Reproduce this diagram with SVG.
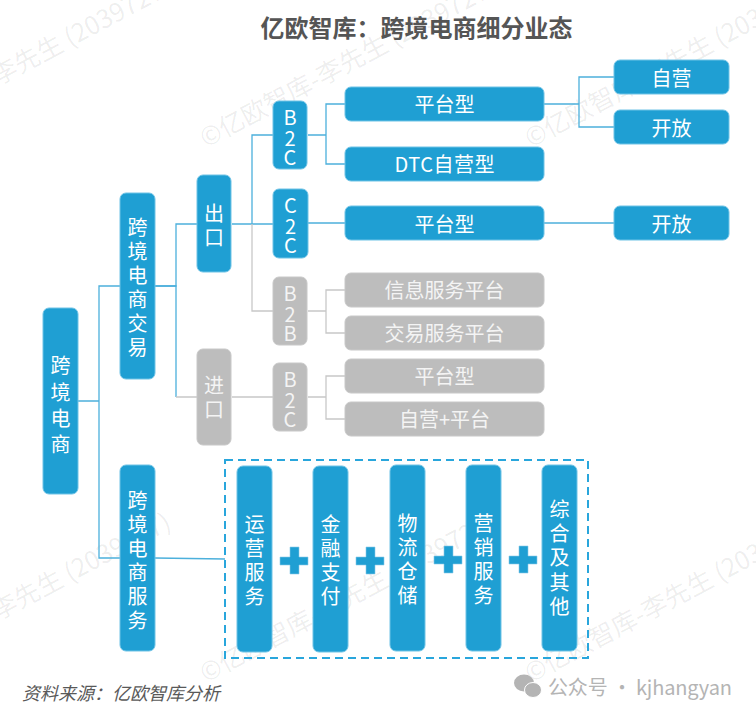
<svg xmlns="http://www.w3.org/2000/svg" width="756" height="717" viewBox="0 0 756 717">
<style>
text{font-family:"Noto Sans CJK SC","Noto Sans",sans-serif}
.n{fill:#1f9fd3;stroke:#6fc3e6;stroke-width:1}
.g{fill:#bdbdbd;stroke:#c8c8c8;stroke-width:1}
.t{fill:#fff;font-size:20px;text-anchor:middle}
.gt{fill:#f4f4f4;font-size:20px;text-anchor:middle}
.c{fill:none;stroke:#4cb0dc;stroke-width:1.3}
.cg{fill:none;stroke:#c8c8c8;stroke-width:1.3}
.w{fill:#000;fill-opacity:.075;font-size:25.500px}
.p{fill:#1f9fd3;stroke:#8ccbe8;stroke-width:.6}
</style>
<rect width="756" height="717" fill="#fff"/>
<g id="watermark">
<text class="w" transform="translate(-119 148) rotate(-28)">©亿欧智库-李先生 (2039727)</text>
<text class="w" transform="translate(206 148) rotate(-28)">©亿欧智库-李先生 (2039727)</text>
<text class="w" transform="translate(531 148) rotate(-28)">©亿欧智库-李先生 (2039727)</text>
<text class="w" transform="translate(-119 683) rotate(-28)">©亿欧智库-李先生 (2039727)</text>
<text class="w" transform="translate(206 683) rotate(-28)">©亿欧智库-李先生 (2039727)</text>
<text class="w" transform="translate(531 683) rotate(-28)">©亿欧智库-李先生 (2039727)</text>
</g>
<text id="title" x="416.500" y="37" text-anchor="middle" font-size="24" font-weight="700" fill="#555">亿欧智库：跨境电商细分业态</text>
<g id="connectors">
<path class="c" d="M78 401H99V286H120M99 401V558H120"/>
<path class="c" d="M155 286H176V224H197"/>
<path class="c" d="M232 224H273M252 224V135H273"/>
<path class="c" d="M155 286H176V397"/>
<path class="cg" d="M252 224V311H273"/>
<path class="c" d="M308 135H326V104H345M326 135V164H345"/>
<path class="c" d="M308 223H345M544 223H615"/>
<path class="c" d="M544 104H579V77H615M579 104V127H615"/>
<path class="cg" d="M176 397H197M232 397H273"/>
<path class="cg" d="M308 311H326V290H345M326 311V333H345"/>
<path class="cg" d="M308 397H326V376H345M326 397V419H345"/>
<path class="c" d="M155 558L225 559"/>
</g>
<g id="n-root"><rect class="n" x="43" y="308" width="35" height="186" rx="6"/><text class="t" x="60.500" y="373">跨</text><text class="t" x="60.500" y="400">境</text><text class="t" x="60.500" y="426">电</text><text class="t" x="60.500" y="452">商</text></g>
<g id="n-trade"><rect class="n" x="120" y="193" width="35" height="186" rx="6"/><text class="t" x="137.500" y="235">跨</text><text class="t" x="137.500" y="259">境</text><text class="t" x="137.500" y="283">电</text><text class="t" x="137.500" y="307">商</text><text class="t" x="137.500" y="331">交</text><text class="t" x="137.500" y="355">易</text></g>
<g id="n-service"><rect class="n" x="120" y="465" width="35" height="186" rx="6"/><text class="t" x="137.500" y="508">跨</text><text class="t" x="137.500" y="532">境</text><text class="t" x="137.500" y="556">电</text><text class="t" x="137.500" y="580">商</text><text class="t" x="137.500" y="604">服</text><text class="t" x="137.500" y="628">务</text></g>
<g id="n-export"><rect class="n" x="197" y="175" width="34" height="97" rx="6"/><text class="t" x="214" y="221">出</text><text class="t" x="214" y="245">口</text></g>
<g id="n-import"><rect class="g" x="197" y="349" width="34" height="96" rx="6"/><text class="gt" x="214" y="393">进</text><text class="gt" x="214" y="417">口</text></g>
<g id="n-b2c1"><rect class="n" x="273" y="101" width="34" height="68" rx="6"/><text class="t" x="290" y="125">B</text><text class="t" x="290" y="145.500">2</text><text class="t" x="290" y="165">C</text></g>
<g id="n-c2c"><rect class="n" x="273" y="189" width="35" height="69" rx="6"/><text class="t" x="290.500" y="213">C</text><text class="t" x="290.500" y="233.500">2</text><text class="t" x="290.500" y="253">C</text></g>
<g id="n-b2b"><rect class="g" x="273" y="277" width="34" height="68" rx="6"/><text class="gt" x="290" y="301">B</text><text class="gt" x="290" y="321.500">2</text><text class="gt" x="290" y="341">B</text></g>
<g id="n-b2c2"><rect class="g" x="273" y="363" width="34" height="68" rx="6"/><text class="gt" x="290" y="387">B</text><text class="gt" x="290" y="407.500">2</text><text class="gt" x="290" y="427">C</text></g>
<g id="n-p1"><rect class="n" x="345" y="87" width="199" height="34" rx="6"/><text class="t" x="444.500" y="112">平台型</text></g>
<g id="n-dtc"><rect class="n" x="345" y="147" width="199" height="34" rx="6"/><text class="t" x="444.500" y="172" textLength="100">DTC自营型</text></g>
<g id="n-p2"><rect class="n" x="345" y="206" width="199" height="34" rx="6"/><text class="t" x="444.500" y="232">平台型</text></g>
<g id="n-info"><rect class="g" x="345" y="273" width="199" height="34" rx="6"/><text class="gt" x="444.500" y="298">信息服务平台</text></g>
<g id="n-deal"><rect class="g" x="345" y="316" width="199" height="34" rx="6"/><text class="gt" x="444.500" y="341">交易服务平台</text></g>
<g id="n-p3"><rect class="g" x="345" y="359" width="199" height="34" rx="6"/><text class="gt" x="444.500" y="384">平台型</text></g>
<g id="n-mix"><rect class="g" x="345" y="402" width="199" height="34" rx="6"/><text class="gt" x="444.500" y="427">自营+平台</text></g>
<g id="n-self"><rect class="n" x="614" y="60" width="115" height="34" rx="6"/><text class="t" x="671.500" y="86">自营</text></g>
<g id="n-open1"><rect class="n" x="614" y="110" width="115" height="34" rx="6"/><text class="t" x="671.500" y="136">开放</text></g>
<g id="n-open2"><rect class="n" x="614" y="206" width="115" height="34" rx="6"/><text class="t" x="671.500" y="232">开放</text></g>
<rect id="dashed-frame" x="225" y="460" width="363" height="198" fill="none" stroke="#29a6dc" stroke-width="2" stroke-dasharray="8 5"/>
<g id="n-ops"><rect class="n" x="237" y="466" width="35" height="186" rx="6"/><text class="t" x="254.500" y="532">运</text><text class="t" x="254.500" y="556">营</text><text class="t" x="254.500" y="580">服</text><text class="t" x="254.500" y="604">务</text></g>
<g id="n-fin"><rect class="n" x="313" y="466" width="35" height="186" rx="6"/><text class="t" x="330.500" y="532">金</text><text class="t" x="330.500" y="556">融</text><text class="t" x="330.500" y="580">支</text><text class="t" x="330.500" y="604">付</text></g>
<g id="n-log"><rect class="n" x="390" y="465" width="35" height="186" rx="6"/><text class="t" x="407.500" y="531">物</text><text class="t" x="407.500" y="555">流</text><text class="t" x="407.500" y="579">仓</text><text class="t" x="407.500" y="603">储</text></g>
<g id="n-mkt"><rect class="n" x="466" y="465" width="35" height="186" rx="6"/><text class="t" x="483.500" y="531">营</text><text class="t" x="483.500" y="555">销</text><text class="t" x="483.500" y="579">服</text><text class="t" x="483.500" y="603">务</text></g>
<g id="n-other"><rect class="n" x="542" y="465" width="35" height="186" rx="6"/><text class="t" x="559.500" y="517">综</text><text class="t" x="559.500" y="541">合</text><text class="t" x="559.500" y="565">及</text><text class="t" x="559.500" y="590">其</text><text class="t" x="559.500" y="614">他</text></g>
<g id="plus">
<path class="p" d="M290 547h9v10h9v8h-9v9h-9v-9h-10v-8h10z"/>
<path class="p" d="M366 547h9v10h9v8h-9v9h-9v-9h-10v-8h10z"/>
<path class="p" d="M444 546h9v10h9v8h-9v9h-9v-9h-10v-8h10z"/>
<path class="p" d="M519 546h9v10h9v8h-9v9h-9v-9h-10v-8h10z"/>
</g>
<text id="source" x="22" y="700" font-size="18" font-style="italic" fill="#595959">资料来源：亿欧智库分析</text>
<g id="wechat-mark">
<ellipse cx="524" cy="683" rx="10" ry="8.500" fill="#b4b4b4"/>
<ellipse cx="533" cy="690" rx="8.500" ry="7.500" fill="#b4b4b4" stroke="#fff" stroke-width="1"/>
<text x="548" y="695" font-size="20" fill="#b4b4b4" textLength="184">公众号 · kjhangyan</text>
</g>
</svg>
